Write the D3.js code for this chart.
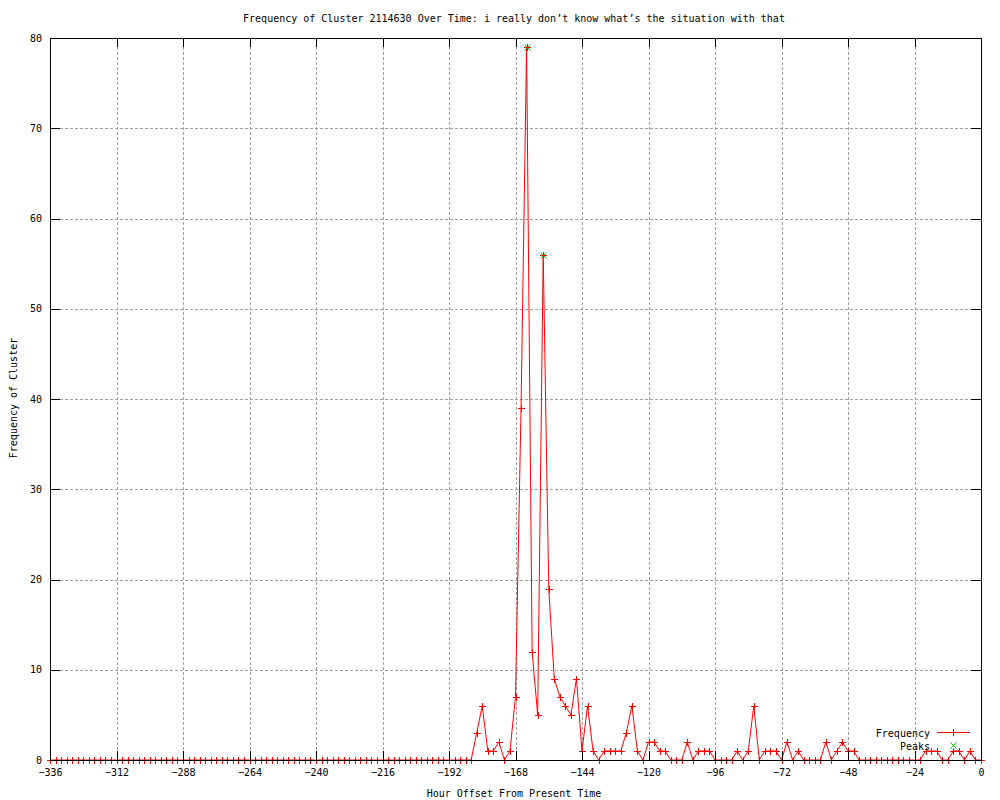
<!DOCTYPE html>
<html>
<head>
<meta charset="utf-8">
<script src="https://cdn.jsdelivr.net/npm/d3@7"></script>
<style>
  body { margin: 0; background: #fff; }
  svg { display: block; font-family: "DejaVu Sans Mono", "Liberation Mono", monospace; font-size: 10px; }
  .axis path, .axis line { stroke: #000; shape-rendering: crispEdges; }
  .axis text { fill: #000; font-family: "DejaVu Sans Mono", "Liberation Mono", monospace; font-size: 10px; }
  .grid line { stroke: #a0a0a0; stroke-dasharray: 3,2; shape-rendering: crispEdges; }
  .grid path { display: none; }
</style>
</head>
<body>
<div id="chart"></div>
<script>
// Dados: frequência a cada 2 horas, de -336 até 0
const hours = d3.range(-336, 1, 2);
const frequency = [
  0,0,0,0,0,0,0,0,0,0,0,0,            // -336 .. -314
  0,0,0,0,0,0,0,0,0,0,0,0,            // -312 .. -290
  0,0,0,0,0,0,0,0,0,0,0,0,            // -288 .. -266
  0,0,0,0,0,0,0,0,0,0,0,0,            // -264 .. -242
  0,0,0,0,0,0,0,0,0,0,0,0,            // -240 .. -218
  0,0,0,0,0,0,0,0,0,0,0,0,            // -216 .. -194
  0,0,0,0,0,3,6,1,1,2,0,1,            // -192 .. -170
  7,39,79,12,5,56,19,9,7,6,5,9,       // -168 .. -146
  1,6,1,0,1,1,1,1,3,6,1,0,            // -144 .. -122
  2,2,1,1,0,0,0,2,0,1,1,1,            // -120 .. -98
  0,0,0,0,1,0,1,6,0,1,1,1,            // -96 .. -74
  0,2,0,1,0,0,0,0,2,0,1,2,            // -72 .. -50
  1,1,0,0,0,0,0,0,0,0,0,0,            // -48 .. -26
  0,0,1,1,1,0,0,1,1,0,1,0,            // -24 .. -2
  0                                    // 0
];
const peakHours = [-164, -158];
const peakValues = [79, 56];

const xTicks = d3.range(-336, 1, 24);
const yTicks = d3.range(0, 81, 10);

const titleText = "Frequency of Cluster 2114630 Over Time: i really don’t know what’s the situation with that";

const data = hours.map((h, i) => ({ hour: h, value: frequency[i] }));
const peaks = peakHours.map((h, i) => ({ hour: h, value: peakValues[i] }));

// Dimensões
const W = 1000, H = 800;
const margin = { top: 38, right: 19, bottom: 40, left: 50 };
const width = W - margin.left - margin.right;
const height = H - margin.top - margin.bottom;

const svg = d3.select('#chart').append('svg')
  .attr('width', W)
  .attr('height', H);

const chart = svg.append('g')
  .attr('transform', `translate(${margin.left},${margin.top})`);

const x = d3.scaleLinear().domain([-336, 0]).range([0, width]);
const y = d3.scaleLinear().domain([0, 80]).range([height, 0]);

// Grelha
chart.append('g')
  .attr('class', 'grid')
  .attr('transform', `translate(0,${height})`)
  .call(d3.axisBottom(x).tickValues(xTicks.slice(1, -1)).tickSize(-height).tickFormat(''));
chart.append('g')
  .attr('class', 'grid')
  .call(d3.axisLeft(y).tickValues(yTicks.slice(1, -1)).tickSize(-width).tickFormat(''));

// Marcadores (alinhados ao pixel)
const plus = s => `M${-s},0H${s}M0,${-s}V${s}`;
const cross = s => `M${-s},${-s}L${s},${s}M${-s},${s}L${s},${-s}`;
const snap = v => Math.round(v) + 0.5;

// Linha
const line = d3.line().x(d => x(d.hour)).y(d => y(d.value));
chart.append('path')
  .datum(data)
  .attr('d', line)
  .attr('fill', 'none')
  .attr('stroke', '#ff0000')
  .attr('stroke-width', 1);

chart.selectAll('.pt')
  .data(data)
  .enter().append('path')
  .attr('class', 'pt')
  .attr('transform', d => `translate(${snap(x(d.hour))},${snap(y(d.value))})`)
  .attr('d', plus(3.5))
  .attr('stroke', '#ff0000')
  .attr('fill', 'none');

chart.selectAll('.peak')
  .data(peaks)
  .enter().append('path')
  .attr('class', 'peak')
  .attr('transform', d => `translate(${snap(x(d.hour))},${snap(y(d.value))})`)
  .attr('d', cross(3))
  .attr('stroke', '#00c000')
  .attr('fill', 'none');

// Eixos (com ticks espelhados)
chart.append('g')
  .attr('class', 'axis')
  .attr('transform', `translate(0,${height})`)
  .call(d3.axisBottom(x).tickValues(xTicks).tickSize(-9).tickSizeOuter(0).tickPadding(9));
chart.append('g')
  .attr('class', 'axis')
  .call(d3.axisTop(x).tickValues(xTicks).tickSize(-9).tickSizeOuter(0).tickFormat(''));
chart.append('g')
  .attr('class', 'axis')
  .call(d3.axisLeft(y).tickValues(yTicks).tickSize(-10).tickSizeOuter(0).tickPadding(8));
chart.append('g')
  .attr('class', 'axis')
  .attr('transform', `translate(${width},0)`)
  .call(d3.axisRight(y).tickValues(yTicks).tickSize(-10).tickSizeOuter(0).tickFormat(''));

chart.append('rect')
  .attr('width', width)
  .attr('height', height)
  .attr('fill', 'none')
  .attr('stroke', '#000')
  .style('shape-rendering', 'crispEdges');

// Títulos
svg.append('text')
  .attr('x', 514).attr('y', 22)
  .attr('text-anchor', 'middle')
  .text(titleText);
svg.append('text')
  .attr('x', 514).attr('y', 797)
  .attr('text-anchor', 'middle')
  .text('Hour Offset From Present Time');
svg.append('text')
  .attr('transform', 'translate(17,398) rotate(-90)')
  .attr('text-anchor', 'middle')
  .text('Frequency of Cluster');

// Legenda
const legend = svg.append('g');
legend.append('text')
  .attr('x', 930).attr('y', 737)
  .attr('text-anchor', 'end')
  .text('Frequency');
legend.append('line')
  .attr('x1', 937).attr('x2', 970)
  .attr('y1', 732.5).attr('y2', 732.5)
  .attr('stroke', '#ff0000');
legend.append('path')
  .attr('transform', 'translate(953.5,732.5)')
  .attr('d', plus(3.5))
  .attr('stroke', '#ff0000');
legend.append('text')
  .attr('x', 930).attr('y', 750)
  .attr('text-anchor', 'end')
  .text('Peaks');
legend.append('path')
  .attr('transform', 'translate(953.5,745.5)')
  .attr('d', cross(3))
  .attr('stroke', '#00c000');
</script>
</body>
</html>
